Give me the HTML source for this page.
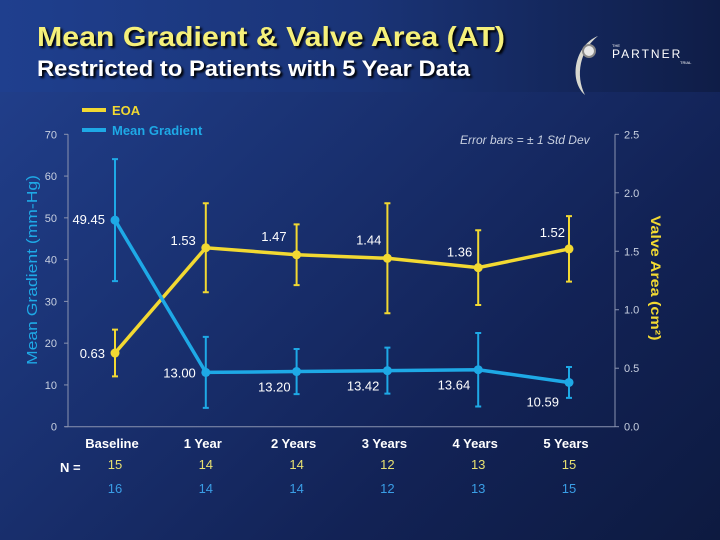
<!DOCTYPE html>
<html><head><meta charset="utf-8"><style>
html,body{margin:0;padding:0;width:720px;height:540px;overflow:hidden;font-family:"Liberation Sans",sans-serif}
#bg{position:absolute;left:0;top:0;width:720px;height:540px;background:linear-gradient(135deg,#22418f 0%,#1a3273 35%,#122255 70%,#0d1a40 100%)}
#hdr{position:absolute;left:0;top:0;width:720px;height:92px;background:linear-gradient(90deg,#1f3f8e 0%,#1a3477 50%,#0f1d47 100%)}
svg{position:absolute;left:0;top:0}
</style></head><body>
<div id="bg"></div>
<div id="hdr"></div>
<svg id="chart" width="720" height="540">
<text x="37" y="46" font-size="28" font-weight="bold" fill="#f5f07a" textLength="468" lengthAdjust="spacingAndGlyphs" style="text-shadow:2px 2px 2px #000">Mean Gradient &amp; Valve Area (AT)</text>
<text x="37" y="76" font-size="22" font-weight="bold" fill="#ffffff" textLength="433" lengthAdjust="spacingAndGlyphs" style="text-shadow:2px 2px 2px #000">Restricted to Patients with 5 Year Data</text>
<g>
<path d="M598,36 C575,45 568,80 585,95 C575,75 580,50 598,36 Z" fill="#d8d8d0"/>
<circle cx="589" cy="51" r="6" fill="#e8e8e8" stroke="#888" stroke-width="2"/>
<text x="612" y="47" font-size="4" fill="#fff">THE</text>
<text x="612" y="58" font-size="12" fill="#fff" letter-spacing="2">PARTNER</text>
<text x="680" y="64" font-size="4" fill="#fff">TRIAL</text>
</g>
<line x1="82" y1="110" x2="106" y2="110" stroke="#f2d932" stroke-width="4"/>
<text x="112" y="115" font-size="13" font-weight="bold" fill="#f2d932">EOA</text>
<line x1="82" y1="130" x2="106" y2="130" stroke="#1ea9e6" stroke-width="4"/>
<text x="112" y="135" font-size="13" font-weight="bold" fill="#1ea9e6">Mean Gradient</text>
<text x="460" y="144" font-size="12" font-style="italic" fill="#c8d0e0">Error bars = ± 1 Std Dev</text>
<text transform="translate(37,270) rotate(-90)" text-anchor="middle" font-size="15" fill="#1ea9e6" textLength="190" lengthAdjust="spacingAndGlyphs">Mean Gradient (mm-Hg)</text>
<text transform="translate(651,278) rotate(90)" text-anchor="middle" font-size="14" font-weight="bold" fill="#f2d932" textLength="125" lengthAdjust="spacingAndGlyphs">Valve Area (cm²)</text>
<text x="60" y="472" font-size="13" font-weight="bold" fill="#fff">N =</text>
<g id="plot"></g>
</svg>
<script>
const categories=["Baseline","1 Year","2 Years","3 Years","4 Years","5 Years"];
const eoa=[0.63,1.53,1.47,1.44,1.36,1.52];
const eoaSD=[0.20,0.38,0.26,0.47,0.32,0.28];
const grad=[49.45,13.00,13.20,13.42,13.64,10.59];
const gradSD=[14.6,8.5,5.4,5.5,8.8,3.7];
const nEoa=[15,14,14,12,13,15];
const nGrad=[16,14,14,12,13,15];
const leftTicks=[0,10,20,30,40,50,60,70];
const rightTicks=["0.0","0.5","1.0","1.5","2.0","2.5"];
const eoaLabelOff=[[-10,5,"end"],[-10,-3,"end"],[-10,-14,"end"],[-6,-14,"end"],[-6,-11,"end"],[-4,-12,"end"]];
const gradLabelOff=[[-10,4,"end"],[-10,5,"end"],[-6,20,"end"],[-8,20,"end"],[-8,20,"end"],[-10,24,"end"]];

const NS="http://www.w3.org/2000/svg";
const g=document.getElementById('plot');
const y0=426.7, yTop=134.3;
function yL(v){return y0-(v/70)*(y0-yTop);}
function yR(v){return y0-(v/2.5)*(y0-yTop);}
function xC(i){return 115+i*90.8;}
function mk(tag,attrs,txt){const e=document.createElementNS(NS,tag);for(const k in attrs)e.setAttribute(k,attrs[k]);if(txt!==undefined)e.textContent=txt;g.appendChild(e);return e;}

let ax=mk('line',{x1:68,y1:yTop,x2:68,y2:y0,stroke:'#8a93b0','stroke-width':1});


ax=mk('line',{x1:615,y1:yTop,x2:615,y2:y0,stroke:'#8a93b0','stroke-width':1});


ax=mk('line',{x1:65,y1:y0,x2:615,y2:y0,stroke:'#8a93b0','stroke-width':1});


leftTicks.forEach(v=>{
  let t=mk('line',{x1:64,y1:yL(v),x2:68,y2:yL(v),stroke:'#8a93b0'});
  
  
  let l=mk('text',{x:57,y:yL(v)+4,'text-anchor':'end','font-size':11,fill:'#c8d0e0'},String(v));
  
  
});
rightTicks.forEach(s=>{
  const v=parseFloat(s);
  let t=mk('line',{x1:615,y1:yR(v),x2:619,y2:yR(v),stroke:'#8a93b0'});
  
  
  let l=mk('text',{x:624,y:yR(v)+4,'font-size':11,fill:'#c8d0e0'},s);
  
  
});
categories.forEach((c,i)=>{
  let l=mk('text',{x:xC(i)-3,y:448,'text-anchor':'middle','font-size':13,'font-weight':'bold',fill:'#fff'},c);
  
  
  let a=mk('text',{x:xC(i),y:469,'text-anchor':'middle','font-size':13,fill:'#e8e070'},String(nEoa[i]));
  
  
  let b=mk('text',{x:xC(i),y:493,'text-anchor':'middle','font-size':13,fill:'#3a9ee6'},String(nGrad[i]));
  
  
});
function series(vals,sds,yf,color,name,offs){
  vals.forEach((v,i)=>{
    const x=xC(i),t=yf(v+sds[i]),b=yf(v-sds[i]);
    let e=mk('path',{d:`M${x},${t}V${b}M${x-3},${t}h6M${x-3},${b}h6`,stroke:color,'stroke-width':2,fill:'none'});
    
    
  });
  let p=mk('polyline',{points:vals.map((v,i)=>xC(i)+','+yf(v)).join(' '),stroke:color,'stroke-width':3.5,fill:'none'});
  
  
  vals.forEach((v,i)=>{
    let c=mk('circle',{cx:xC(i),cy:yf(v),r:4.5,fill:color});
    
    
    const o=offs[i];
    let l=mk('text',{x:xC(i)+o[0],y:yf(v)+o[1],'text-anchor':o[2],'font-size':13,fill:'#fff'},v.toFixed(2));
    
    
  });
}
series(eoa,eoaSD,yR,'#f2d932','eoa',eoaLabelOff);
series(grad,gradSD,yL,'#1ea9e6','gradient',gradLabelOff);
</script>
</body></html>
